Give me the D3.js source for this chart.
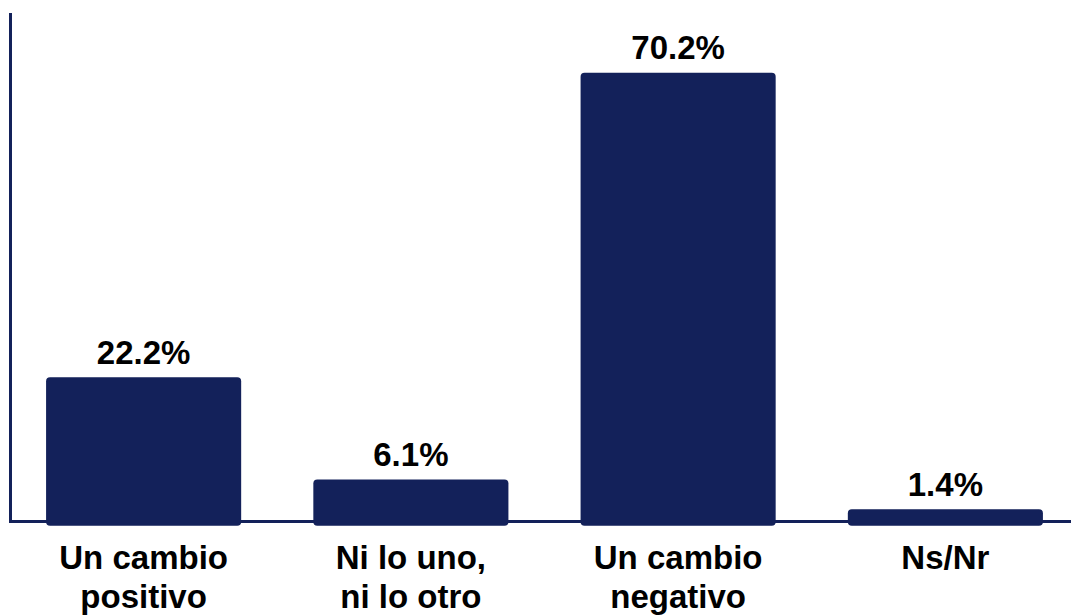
<!DOCTYPE html>
<html>
<head>
<meta charset="utf-8">
<script src="https://cdn.jsdelivr.net/npm/d3@7"></script>
<style>
  html, body { margin: 0; padding: 0; background: #fff; }
  svg { display: block; }
  text { font-family: "Liberation Sans", Arial, sans-serif; font-weight: bold; fill: #000; }
</style>
</head>
<body>
<svg id="chart" width="1071" height="615"></svg>
<script>
const categories = [["Un cambio", "positivo"], ["Ni lo uno,", "ni lo otro"], ["Un cambio", "negativo"], ["Ns/Nr"]];
const values = [22.2, 6.1, 70.2, 1.4];
const valueLabels = ["22.2%", "6.1%", "70.2%", "1.4%"];

const W = 1071, H = 615;
const color = "#13215a";
const svg = d3.select("#chart");

const idx = d3.range(values.length);
const x = d3.scaleBand().domain(idx).range([10, 1079]).paddingInner(0.27).paddingOuter(0.135);
const y = d3.scaleLinear().domain([0, 80]).range([518.2, 10.5]);

// bars
svg.selectAll("rect.bar").data(idx).enter().append("rect")
  .attr("class", "bar")
  .attr("x", i => x(i))
  .attr("y", i => y(values[i]))
  .attr("width", x.bandwidth())
  .attr("height", i => y(0) + 7.5 - y(values[i]))
  .attr("rx", 4).attr("ry", 4)
  .attr("fill", color);

// axes lines
svg.append("line").attr("x1", 10.5).attr("x2", 10.5).attr("y1", 13).attr("y2", 523)
  .attr("stroke", color).attr("stroke-width", 3);
svg.append("line").attr("x1", 9).attr("x2", W).attr("y1", 521.5).attr("y2", 521.5)
  .attr("stroke", color).attr("stroke-width", 3);

// value labels
svg.selectAll("text.val").data(idx).enter().append("text")
  .attr("class", "val")
  .attr("x", i => x(i) + x.bandwidth() / 2)
  .attr("y", i => y(values[i]) - 13.5)
  .attr("text-anchor", "middle")
  .attr("font-size", 33)
  .text(i => valueLabels[i]);

// category labels
const cat = svg.selectAll("text.cat").data(idx).enter().append("text")
  .attr("class", "cat")
  .attr("text-anchor", "middle")
  .attr("font-size", 33)
  .attr("x", i => x(i) + x.bandwidth() / 2)
  .attr("y", 569);
cat.each(function(i) {
  const t = d3.select(this);
  categories[i].forEach((line, k) => {
    t.append("tspan")
      .attr("x", x(i) + x.bandwidth() / 2)
      .attr("y", 569 + k * 39)
      .text(line);
  });
});
</script>
</body>
</html>
